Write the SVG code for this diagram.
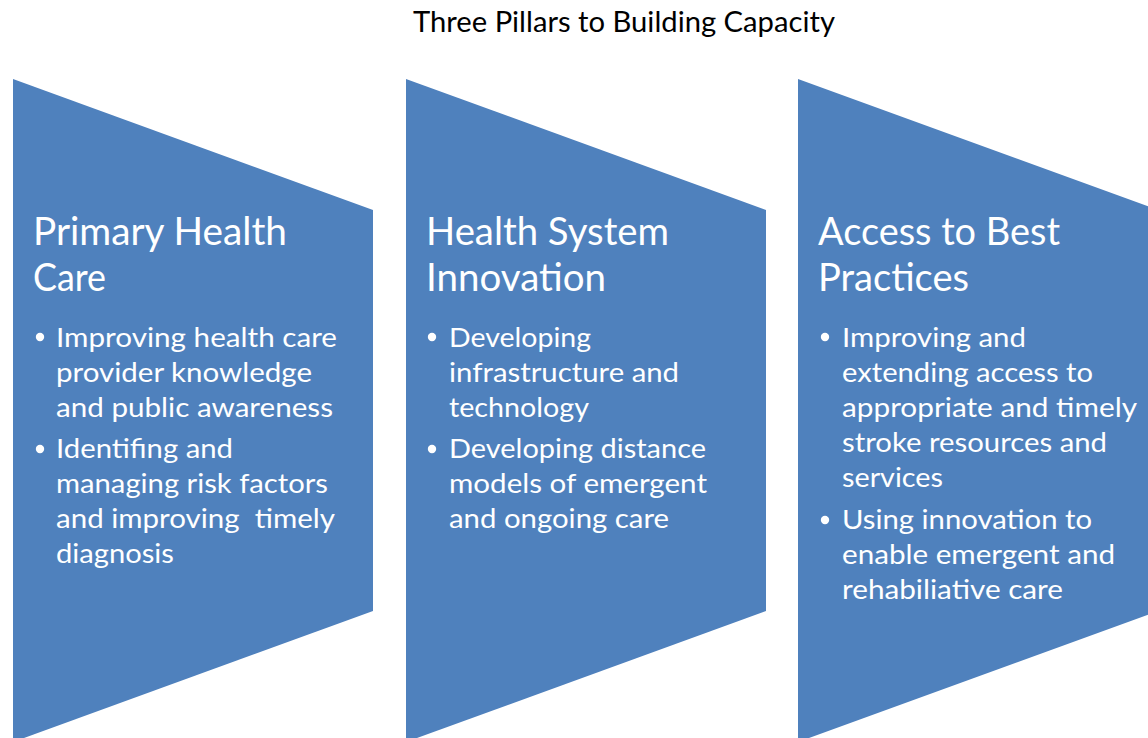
<svg xmlns="http://www.w3.org/2000/svg" width="1148" height="738" viewBox="0 0 1148 738">
<style>
.pill{fill:#4F81BD;}
.t{font-family:Lato,"Open Sans","Liberation Sans",sans-serif;fill:#FFFFFF;}
.h{font-size:38px;}
.b{font-size:26.5px;}
.title{font-family:Lato,"Open Sans","Liberation Sans",sans-serif;font-size:28px;fill:#000000;}
.dot{fill:#FFFFFF;}
</style>
<rect width="1148" height="738" fill="#FFFFFF"/>
<text class="title" x="413" y="32" textLength="422" lengthAdjust="spacingAndGlyphs">Three Pillars to Building Capacity</text>

<g id="pillar-primary-health-care">
<polygon class="pill" points="13,79 373,210 373,611 13,742"/>
<text class="t h" x="33" y="245" textLength="254" lengthAdjust="spacingAndGlyphs">Primary Health</text>
<text class="t h" x="33" y="291" textLength="73" lengthAdjust="spacingAndGlyphs">Care</text>
<circle class="dot" cx="40" cy="337" r="4.2"/>
<text class="t b" x="56" y="347" textLength="281" lengthAdjust="spacingAndGlyphs">Improving health care</text>
<text class="t b" x="56" y="382" textLength="256" lengthAdjust="spacingAndGlyphs">provider knowledge</text>
<text class="t b" x="56" y="417" textLength="277" lengthAdjust="spacingAndGlyphs">and public awareness</text>
<circle class="dot" cx="40" cy="449" r="4.2"/>
<text class="t b" x="56" y="458" textLength="177" lengthAdjust="spacingAndGlyphs">Identifing and</text>
<text class="t b" x="56" y="493" textLength="272" lengthAdjust="spacingAndGlyphs">managing risk factors</text>
<text class="t b" x="56" y="528" textLength="279" lengthAdjust="spacingAndGlyphs" xml:space="preserve">and improving  timely</text>
<text class="t b" x="56" y="563" textLength="118" lengthAdjust="spacingAndGlyphs">diagnosis</text>
</g>

<g id="pillar-health-system-innovation">
<polygon class="pill" points="406,79 766,210 766,611 406,742"/>
<text class="t h" x="426" y="245" textLength="243" lengthAdjust="spacingAndGlyphs">Health System</text>
<text class="t h" x="426" y="291" textLength="180" lengthAdjust="spacingAndGlyphs">Innovation</text>
<circle class="dot" cx="432" cy="337" r="4.2"/>
<text class="t b" x="449" y="347" textLength="142" lengthAdjust="spacingAndGlyphs">Developing</text>
<text class="t b" x="449" y="382" textLength="230" lengthAdjust="spacingAndGlyphs">infrastructure and</text>
<text class="t b" x="449" y="417" textLength="140" lengthAdjust="spacingAndGlyphs">technology</text>
<circle class="dot" cx="432" cy="449" r="4.2"/>
<text class="t b" x="449" y="458" textLength="257" lengthAdjust="spacingAndGlyphs">Developing distance</text>
<text class="t b" x="449" y="493" textLength="258" lengthAdjust="spacingAndGlyphs">models of emergent</text>
<text class="t b" x="449" y="528" textLength="220" lengthAdjust="spacingAndGlyphs">and ongoing care</text>
</g>

<g id="pillar-access-best-practices">
<polygon class="pill" points="798,79 1158,210 1158,611 798,742"/>
<text class="t h" x="818" y="245" textLength="242" lengthAdjust="spacingAndGlyphs">Access to Best</text>
<text class="t h" x="818" y="291" textLength="151" lengthAdjust="spacingAndGlyphs">Practices</text>
<circle class="dot" cx="825" cy="337" r="4.2"/>
<text class="t b" x="842" y="347" textLength="184" lengthAdjust="spacingAndGlyphs">Improving and</text>
<text class="t b" x="842" y="382" textLength="251" lengthAdjust="spacingAndGlyphs">extending access to</text>
<text class="t b" x="842" y="417" textLength="295" lengthAdjust="spacingAndGlyphs">appropriate and timely</text>
<text class="t b" x="842" y="452" textLength="265" lengthAdjust="spacingAndGlyphs">stroke resources and</text>
<text class="t b" x="842" y="487" textLength="101" lengthAdjust="spacingAndGlyphs">services</text>
<circle class="dot" cx="825" cy="520" r="4.2"/>
<text class="t b" x="842" y="529" textLength="250" lengthAdjust="spacingAndGlyphs">Using innovation to</text>
<text class="t b" x="842" y="564" textLength="273" lengthAdjust="spacingAndGlyphs">enable emergent and</text>
<text class="t b" x="842" y="599" textLength="221" lengthAdjust="spacingAndGlyphs">rehabiliative care</text>
</g>

<g id="connectors"></g>
</svg>
